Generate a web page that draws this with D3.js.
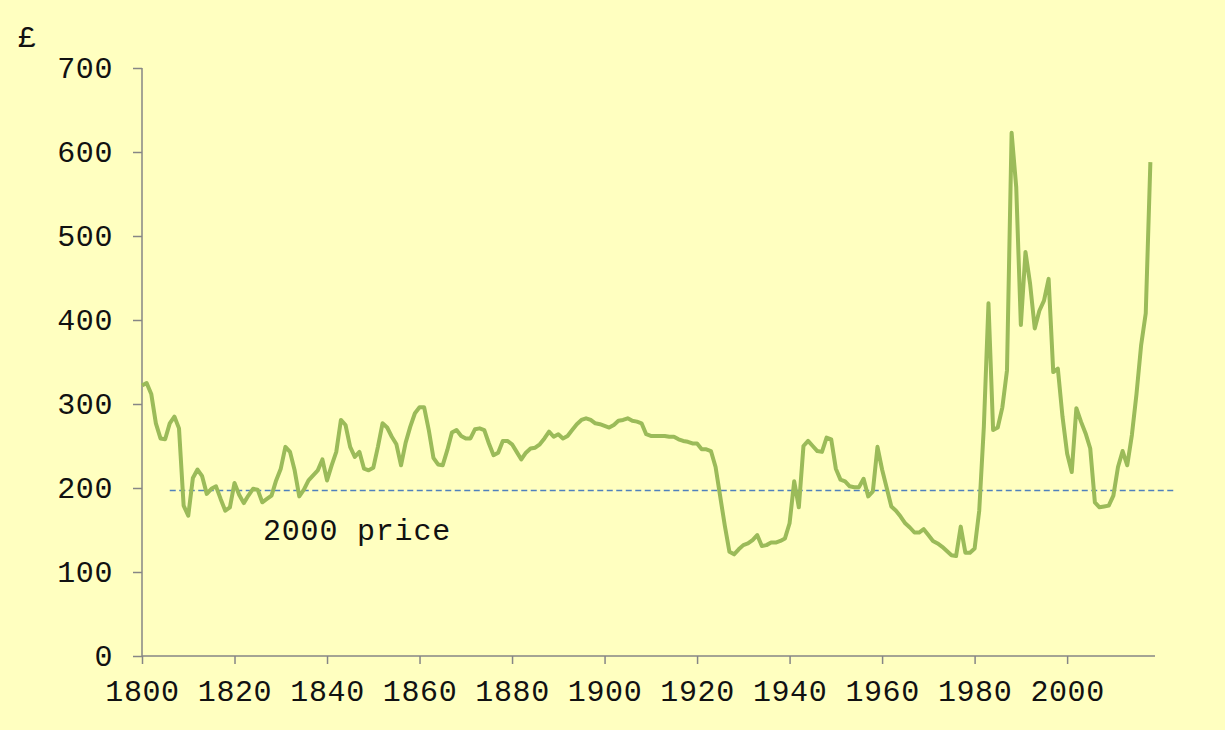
<!DOCTYPE html>
<html>
<head>
<meta charset="utf-8">
<script src="https://cdn.jsdelivr.net/npm/d3@7"></script>
<style>
  html, body { margin: 0; padding: 0; background: #FFFFC0; }
  svg { display: block; }
  text { font-family: "Liberation Mono", "Courier New", monospace; fill: #111; }
</style>
</head>
<body>
<script>
// yearly price in £, first value is 1800
const firstYear = 1800;
const price = [
  322, 325, 312, 277, 259, 258, 277, 285, 271, 179,
  167, 212, 222, 214, 193, 199, 202, 187, 173, 177,
  206, 192, 182, 191, 199, 198, 183, 187, 191, 209,
  223, 249, 243, 221, 190, 198, 209, 215, 221, 234,
  209, 227, 243, 281, 275, 249, 237, 243, 223, 221,
  224, 249, 277, 272, 261, 252, 227, 254, 273, 289,
  296, 296, 269, 236, 228, 227, 245, 266, 269, 262,
  259, 259, 270, 271, 269, 253, 239, 242, 256, 256,
  252, 243, 234, 242, 247, 248, 252, 259, 267, 261,
  264, 259, 262, 269, 276, 281, 283, 281, 277, 276,
  274, 272, 275, 280, 281, 283, 280, 279, 277, 264,
  262, 262, 262, 262, 261, 261, 258, 256, 255, 253,
  253, 246, 246, 244, 225, 190, 155, 124, 121, 127,
  132, 134, 138, 144, 131, 132, 135, 135, 137, 140,
  158, 208, 177, 250, 256, 250, 244, 243, 260, 258,
  223, 210, 208, 202, 201, 201, 211, 190, 196, 249,
  222, 200, 178, 173, 166, 158, 153, 147, 147, 151,
  144, 137, 134, 130, 125, 120, 119, 154, 123, 123,
  128, 173, 273, 420, 269, 272, 296, 340, 623, 558,
  394, 481, 443, 390, 411, 423, 449, 338, 342, 285,
  241, 219, 295, 279, 265, 247, 183, 177, 178, 179,
  191, 225, 244, 227, 263, 312, 370, 408, 588
];
const years = price.map((d, i) => firstYear + i);

// reference line: the 2000 price
const refYears = [1806, 2023.5];
const refPrice = [197, 197];
const refLabel = "2000 price";

const xTicks = [1800, 1820, 1840, 1860, 1880, 1900, 1920, 1940, 1960, 1980, 2000];
const yTicks = [0, 100, 200, 300, 400, 500, 600, 700];

const width = 1225, height = 730;
const axisColor = "#868686";
const fontSize = 30;

const svg = d3.select("body").append("svg")
  .attr("width", width)
  .attr("height", height);

svg.append("rect")
  .attr("width", width)
  .attr("height", height)
  .attr("fill", "#FFFFC0");

const x = d3.scaleLinear().domain([1800, 2019]).range([142, 1155]);
const y = d3.scaleLinear().domain([0, 700]).range([656, 68]);

// Y axis
const yAxis = svg.append("g")
  .attr("transform", "translate(142,0)")
  .call(d3.axisLeft(y).tickValues(yTicks).tickSize(9).tickPadding(20).tickFormat(d3.format("d")));
yAxis.select(".domain").attr("stroke", axisColor).attr("stroke-width", 1.5).attr("d", "M0,68V656");
yAxis.selectAll(".tick line").attr("stroke", axisColor).attr("stroke-width", 1.5);
yAxis.selectAll(".tick text")
  .attr("font-size", fontSize)
  .attr("font-family", "Liberation Mono, Courier New, monospace")
  .attr("fill", "#111")
  .attr("letter-spacing", 0.6)
  .attr("dy", "0.3em");

// X axis
const xAxis = svg.append("g")
  .attr("transform", "translate(0,656)")
  .call(d3.axisBottom(x).tickValues(xTicks).tickSize(8).tickPadding(16).tickFormat(d3.format("d")));
xAxis.select(".domain").attr("stroke", axisColor).attr("stroke-width", 1.5).attr("d", "M142,0H1155");
xAxis.selectAll(".tick line").attr("stroke", axisColor).attr("stroke-width", 1.5);
xAxis.selectAll(".tick text")
  .attr("font-size", fontSize)
  .attr("font-family", "Liberation Mono, Courier New, monospace")
  .attr("fill", "#111")
  .attr("letter-spacing", 0.6);

// currency label
svg.append("text")
  .attr("x", 18)
  .attr("y", 47)
  .attr("font-size", fontSize)
  .text("£");

// reference dashed line
svg.append("path")
  .datum(refYears.map((d, i) => [d, refPrice[i]]))
  .attr("fill", "none")
  .attr("stroke", "#4F81BD")
  .attr("stroke-width", 1.6)
  .attr("stroke-dasharray", "6,3.5")
  .attr("d", d3.line().x(d => x(d[0])).y(d => y(d[1])));

svg.append("text")
  .attr("x", 263)
  .attr("y", 540)
  .attr("font-size", fontSize)
  .attr("letter-spacing", 0.8)
  .text(refLabel);

// price line
svg.append("path")
  .datum(years.map((d, i) => [d, price[i]]))
  .attr("fill", "none")
  .attr("stroke", "#9BBB59")
  .attr("stroke-width", 4)
  .attr("stroke-linejoin", "round")
  .attr("d", d3.line().x(d => x(d[0])).y(d => y(d[1])));
</script>
</body>
</html>
